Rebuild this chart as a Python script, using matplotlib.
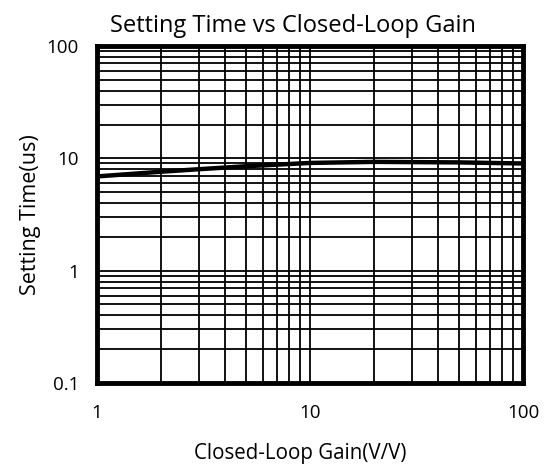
import matplotlib
matplotlib.use('Agg')
import matplotlib.pyplot as plt
from matplotlib.ticker import FixedLocator, LogLocator, NullFormatter

plt.rcParams['font.family'] = ['Open Sans', 'DejaVu Sans']

gain = [1, 2, 3, 5, 10, 20, 50, 100]
settle = [6.9, 7.6, 8.0, 8.5, 9.1, 9.3, 9.2, 9.0]

xticks = [1, 10, 100]
yticks = [0.1, 1, 10, 100]
ytick_labels = ['0.1', '1', '10', '100']

fig = plt.figure(figsize=(5.52, 4.74), dpi=100)
ax = fig.add_axes([97/552, 1 - 383/474, 426/552, 337/474])

ax.plot(gain, settle, color='black', lw=3.2, zorder=3, solid_capstyle='butt')

ax.set_xscale('log')
ax.set_yscale('log')
ax.set_xlim(1, 100)
ax.set_ylim(0.1, 100)

ax.xaxis.set_major_locator(FixedLocator(xticks))
ax.set_xticklabels([str(v) for v in xticks])
ax.yaxis.set_major_locator(FixedLocator(yticks))
ax.set_yticklabels(ytick_labels)
ax.xaxis.set_minor_locator(LogLocator(base=10, subs=range(2, 10)))
ax.yaxis.set_minor_locator(LogLocator(base=10, subs=range(2, 10)))
ax.xaxis.set_minor_formatter(NullFormatter())
ax.yaxis.set_minor_formatter(NullFormatter())

ax.grid(True, which='both', color='black', lw=1.3)
ax.tick_params(which='both', length=0, labelsize=13.5)
ax.tick_params(axis='x', pad=15)
ax.tick_params(axis='y', pad=13)

for s in ax.spines.values():
    s.set_linewidth(3.5)
    s.set_color('black')

ax.set_title('Setting Time vs Closed-Loop Gain', fontsize=17, pad=10, x=0.46)
ax.set_xlabel('Closed-Loop Gain(V/V)', fontsize=14.8, labelpad=15, x=0.477)
ax.set_ylabel('Setting Time(us)', fontsize=15.5, labelpad=4)

fig.savefig('out.png', dpi=100)
